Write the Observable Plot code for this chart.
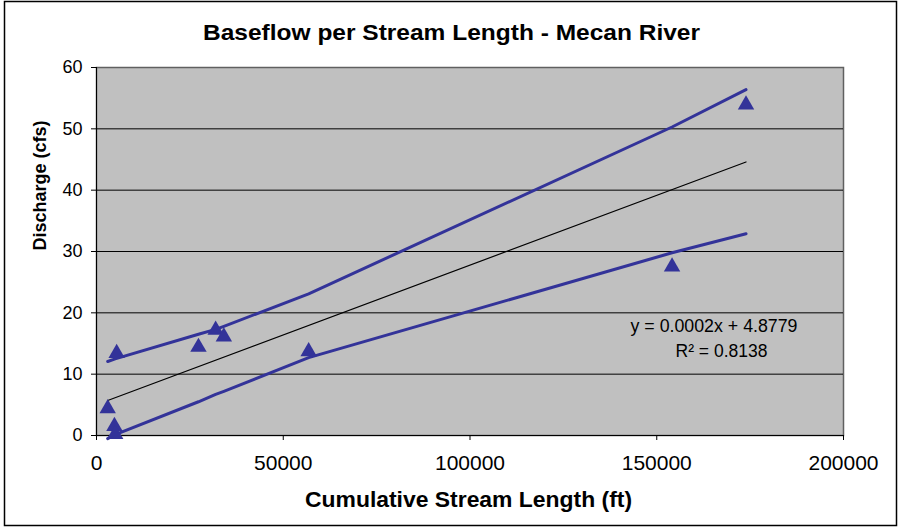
<!DOCTYPE html>
<html>
<head>
<meta charset="utf-8">
<script src="https://cdn.jsdelivr.net/npm/d3@7"></script>
<script src="https://cdn.jsdelivr.net/npm/@observablehq/plot@0.6"></script>
<style>
  html, body { margin: 0; padding: 0; background: #fff; }
  #chart { width: 898px; height: 527px; }
</style>
</head>
<body>
<div id="chart"></div>
<script>
// ---- data ----
const titleText = "Baseflow per Stream Length - Mecan River";
const xLabel = "Cumulative Stream Length (ft)";
const yLabel = "Discharge (cfs)";
const eqLine1 = "y = 0.0002x + 4.8779";
const eqLine2 = "R\u00B2 = 0.8138";

const lengthFt     = [3000, 4800, 5000, 5400, 27300, 31900, 34100, 56800, 154100, 173900];
const dischargeCfs = [4.8, 1.9, 0.6, 13.8, 14.8, 17.6, 16.5, 14.1, 27.9, 54.3];

const bandX     = [3000, 5000, 27300, 31900, 34100, 56800, 154100, 173900];
const upperBand = [12.06, 12.5, 16.5, 17.3, 17.8, 23.1, 50.3, 56.4];
const lowerBand = [-0.5, 0.15, 5.5, 6.7, 7.2, 12.7, 29.8, 32.9];

const trendX = [3000, 173900];
const trendY = [5.7, 44.6];

const xTicks = [0, 50000, 100000, 150000, 200000];
const yTicks = [0, 10, 20, 30, 40, 50, 60];
const gridY  = [10, 20, 30, 40, 50];

// ---- build tables ----
const points = lengthFt.map((x, i) => ({x, y: dischargeCfs[i]}));
const upper = bandX.map((x, i) => ({x, y: upperBand[i]}));
const lower = bandX.map((x, i) => ({x, y: lowerBand[i]}));
const trend = trendX.map((x, i) => ({x, y: trendY[i]}));

const blue = "#333399";

const svg = Plot.plot({
  width: 898,
  height: 527,
  marginLeft: 96,
  marginRight: 55,
  marginTop: 67,
  marginBottom: 92,
  x: {domain: [0, 200000]},
  y: {domain: [0, 60]},
  style: {fontFamily: "'Liberation Sans', Arial, sans-serif", background: "white", overflow: "visible", color: "black"},
  marks: [
    Plot.frame({fill: "#C0C0C0", stroke: "#606060", strokeWidth: 1.5}),
    Plot.ruleY(gridY, {stroke: "black", strokeWidth: 1}),
    Plot.ruleX([0], {stroke: "black", strokeWidth: 1}),
    Plot.ruleY([0], {stroke: "black", strokeWidth: 1}),
    Plot.axisY({ticks: yTicks, tickSize: 5, tickPadding: 9, fontSize: 18, label: null}),
    Plot.axisX({ticks: xTicks, tickFormat: d => String(d), tickSize: 5, tickPadding: 15, fontSize: 21, label: null}),
    Plot.line(trend, {x: "x", y: "y", stroke: "black", strokeWidth: 1.2}),
    Plot.line(upper, {x: "x", y: "y", stroke: blue, strokeWidth: 3, clip: false}),
    Plot.line(lower, {x: "x", y: "y", stroke: blue, strokeWidth: 3, clip: false}),
    Plot.dot(points, {x: "x", y: "y", symbol: "triangle", r: 6.1, fill: blue, stroke: "none", dy: 2.4}),
    Plot.text([eqLine1], {frameAnchor: "top-left", text: d => d, textAnchor: "start", lineAnchor: "bottom", dx: 534, dy: 264, fontSize: 17.5, fill: "black"}),
    Plot.text([eqLine2], {frameAnchor: "top-left", text: d => d, textAnchor: "start", lineAnchor: "bottom", dx: 579, dy: 289, fontSize: 17.5, fill: "black"}),
    Plot.text([titleText], {frameAnchor: "top", text: d => d, lineAnchor: "bottom", dx: -18.5, dy: -27.5, fontSize: 22, fontWeight: "bold", fill: "black"}),
    Plot.text([xLabel], {frameAnchor: "bottom", text: d => d, lineAnchor: "bottom", dx: -1.5, dy: 71, fontSize: 22, fontWeight: "bold", fill: "black"}),
    Plot.text([yLabel], {frameAnchor: "left", text: d => d, lineAnchor: "bottom", rotate: -90, dx: -51, dy: -1, fontSize: 18, fontWeight: "bold", fill: "black"})
  ]
});

document.getElementById("chart").appendChild(svg);

// outer chart border
d3.select(svg).insert("rect", ":first-child")
  .attr("x", 4.5).attr("y", 1.5).attr("width", 892).attr("height", 524)
  .attr("fill", "white").attr("stroke", "black").attr("stroke-width", 1.5);

// stretch title and labels to the reference widths
const stretch = {[titleText]: 497, [xLabel]: 327, [eqLine1]: 167};
d3.select(svg).selectAll("text").each(function() {
  const t = this.textContent;
  if (stretch[t]) {
    this.setAttribute("textLength", stretch[t]);
    this.setAttribute("lengthAdjust", "spacingAndGlyphs");
  }
});
</script>
</body>
</html>
